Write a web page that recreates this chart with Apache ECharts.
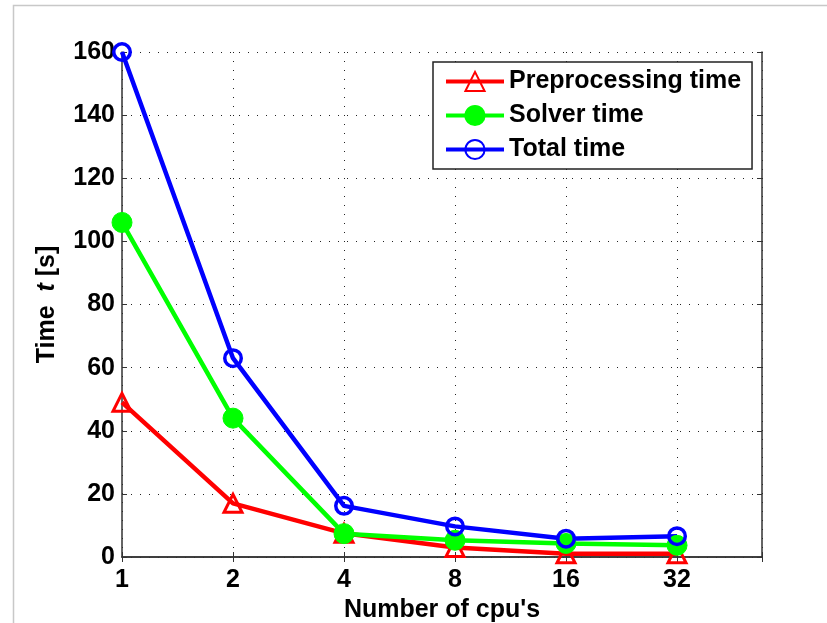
<!DOCTYPE html>
<html>
<head>
<meta charset="utf-8">
<script src="https://cdn.jsdelivr.net/npm/echarts@6/dist/echarts.min.js"></script>
<style>html,body{margin:0;padding:0;background:#fff;}#c{width:827px;height:623px;}</style>
</head>
<body>
<div id="c"></div>
<script>
const cpus = [1, 2, 4, 8, 16, 32];
const xTickLabels = ['1', '2', '4', '8', '16', '32'];
const yTicks = [0, 20, 40, 60, 80, 100, 120, 140, 160];
const preprocessing = [49, 17, 7.5, 3, 1, 1];
const solver = [106, 44, 7.4, 5.3, 4.3, 3.7];
const total = [160, 63, 16.2, 9.7, 5.8, 6.6];
const seriesNames = ['Preprocessing time', 'Solver time', 'Total time'];

const FONT = '"Liberation Sans", Arial, Helvetica, sans-serif';
const pair = (ys) => cpus.map((x, i) => [x, ys[i]]);
const xFmt = (v) => {
  const r = Math.round(v);
  const i = cpus.indexOf(r);
  return (i >= 0 && Math.abs(v - r) < 1e-6) ? xTickLabels[i] : '';
};
const axisLine = { show: true, lineStyle: { color: '#333', width: 1.5 } };
const gridDots = { show: true, lineStyle: { color: '#222', width: 1, type: [1, 8] } };
const labelStyle = { color: '#000', fontSize: 25, fontWeight: 'bold', fontFamily: FONT };

const chart = echarts.init(document.getElementById('c'), null, { renderer: 'canvas' });
chart.setOption({
  animation: false,
  backgroundColor: '#fff',
  graphic: [{
    type: 'rect', shape: { x: 13.5, y: 5.5, width: 900, height: 800 },
    style: { fill: 'none', stroke: '#c8c8c8', lineWidth: 1.5 }, silent: true, z: -10
  }],
  grid: { left: 122, top: 52, right: 65, bottom: 66, containLabel: false, outerBoundsMode: 'none' },
  legend: {
    orient: 'vertical', left: 433, top: 62,
    padding: [7, 11, 7, 11],
    itemWidth: 58, itemHeight: 24, itemGap: 9,
    borderColor: '#222', borderWidth: 1.5, backgroundColor: '#fff',
    lineStyle: { width: 4 },
    textStyle: { color: '#000', fontSize: 25, fontWeight: 'bold', fontFamily: FONT },
    data: seriesNames
  },
  xAxis: [{
    type: 'log', logBase: 2, min: 1, max: 54.4,
    position: 'bottom',
    name: "Number of cpu's", nameLocation: 'middle', nameGap: 34,
    nameTextStyle: labelStyle,
    axisLine: axisLine,
    axisTick: { show: true, inside: true, length: 5, lineStyle: { color: '#333', width: 1 } },
    axisLabel: Object.assign({ formatter: xFmt, margin: 11 }, labelStyle),
    splitLine: gridDots,
    minorTick: { show: false }
  }, {
    type: 'log', logBase: 2, min: 1, max: 54.4,
    position: 'top',
    axisLine: axisLine,
    axisTick: { show: true, inside: true, length: 5, lineStyle: { color: '#333', width: 1 } },
    axisLabel: { show: false },
    splitLine: { show: false }
  }],
  yAxis: [{
    type: 'value', min: yTicks[0], max: yTicks[yTicks.length - 1], interval: 20,
    position: 'left',
    name: 'Time  {i|t} [s]', nameLocation: 'middle', nameGap: 62,
    nameTextStyle: Object.assign({ rich: { i: { fontStyle: 'italic', fontSize: 25, fontWeight: 'bold', fontFamily: FONT, color: '#000' } } }, labelStyle),
    axisLine: axisLine,
    axisTick: { show: true, inside: true, length: 5, lineStyle: { color: '#333', width: 1 } },
    axisLabel: Object.assign({ margin: 7 }, labelStyle),
    splitLine: gridDots
  }, {
    type: 'value', min: yTicks[0], max: yTicks[yTicks.length - 1], interval: 20,
    position: 'right',
    axisLine: axisLine,
    axisTick: { show: true, inside: true, length: 5, lineStyle: { color: '#333', width: 1 } },
    axisLabel: { show: false },
    splitLine: { show: false }
  }],
  series: [{
    name: seriesNames[0], type: 'line', data: pair(preprocessing),
    symbol: 'triangle', symbolSize: 18,
    lineStyle: { color: '#ff0000', width: 4.5 },
    itemStyle: { color: 'rgba(255,255,255,0)', borderColor: '#ff0000', borderWidth: 3 }
  }, {
    name: seriesNames[1], type: 'line', data: pair(solver),
    symbol: 'circle', symbolSize: 20,
    lineStyle: { color: '#00ff00', width: 4.5 },
    itemStyle: { color: '#00ff00', borderColor: '#00ff00', borderWidth: 1 }
  }, {
    name: seriesNames[2], type: 'line', data: pair(total),
    symbol: 'circle', symbolSize: 16.5,
    lineStyle: { color: '#0000ff', width: 4.5 },
    itemStyle: { color: 'rgba(255,255,255,0)', borderColor: '#0000ff', borderWidth: 3.5 }
  }]
});
</script>
</body>
</html>
